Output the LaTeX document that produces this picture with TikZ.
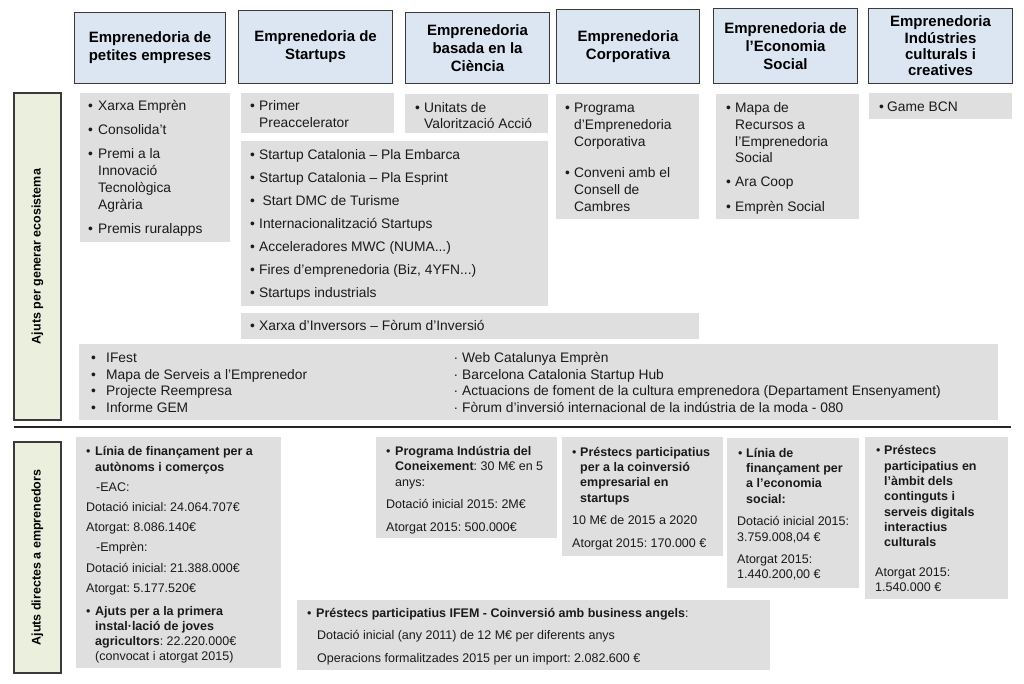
\documentclass[tikz,border=0pt]{standalone}
\usepackage{fontspec}
\setmainfont{Liberation Sans}
\definecolor{hdrfill}{HTML}{DCE6F2}
\definecolor{hdrline}{HTML}{3A3A3A}
\definecolor{gfill}{HTML}{DFDFDF}
\definecolor{sidefill}{HTML}{EBF0DE}
\definecolor{txtcol}{HTML}{1A1A1A}
\frenchspacing
\newcommand\bodyfont{\fontsize{13.8}{16.7}\selectfont\frenchspacing}
\newcommand\smallfont{\fontsize{12.5}{15.5}\selectfont\frenchspacing}
\newcommand\hdrfont{\fontsize{15}{18}\selectfont\bfseries}
\newcommand\sidefont{\fontsize{12.5}{15}\selectfont\bfseries}
\newcounter{tln}
\newcommand\tl[4][tx]{\stepcounter{tln}\node[#1] (t\arabic{tln}) at (#2,#3) {#4};}
\newcommand\bl[5][tx]{\tl[#1]{#2}{#4}{•}\tl[#1]{#3}{#4}{#5}}
\begin{document}
\begin{tikzpicture}[x=1pt,y=-1pt,
  hdr/.style={draw=hdrline, line width=1.1pt, fill=hdrfill, inner sep=0pt, align=center, font=\hdrfont, anchor=north west, text=black},
  gbox/.style={fill=gfill, inner sep=0pt, anchor=north west},
  side/.style={draw=hdrline, line width=1.1pt, fill=sidefill, inner sep=0pt, rotate=90, font=\sidefont, text=black},
  tx/.style={anchor=base west, inner sep=0pt, font=\bodyfont, text=txtcol},
  ts/.style={anchor=base west, inner sep=0pt, font=\smallfont, text=txtcol}]
\useasboundingbox[fill=white] (0,0) rectangle (1024,683);

% headers
\node[hdr, minimum width=151, minimum height=71] (h1) at (74,12) {Emprenedoria de\\petites empreses};
\node[hdr, minimum width=154, minimum height=73] (h2) at (238,10) {Emprenedoria de\\Startups};
\node[hdr, minimum width=144, minimum height=71] (h3) at (405,12) {Emprenedoria\\basada en la\\Ciència};
\node[hdr, minimum width=143, minimum height=74] (h4) at (556,9) {Emprenedoria\\Corporativa};
\node[hdr, minimum width=144, minimum height=75] (h5) at (713,8) {Emprenedoria de\\l’Economia\\Social};
\node[hdr, minimum width=144, minimum height=75, font=\fontsize{15}{16.3}\selectfont\bfseries] (h6) at (868,8) {Emprenedoria\\Indústries\\culturals i\\creatives};

% side labels
\node[side, minimum width=327, minimum height=47] (s1) at (37.5,256.5) {Ajuts per generar ecosistema};
\node[side, minimum width=231, minimum height=47] (s2) at (37.5,557.5) {Ajuts directes a emprenedors};

% separator
\coordinate (sepL) at (14,427);
\coordinate (sepR) at (1011,427);
\draw[line width=2.4pt, color=black!85] (sepL) -- (sepR);

% gray boxes
\node[gbox, minimum width=150, minimum height=149] (g1) at (80,93) {};
\node[gbox, minimum width=153, minimum height=40] (g2) at (241,93) {};
\node[gbox, minimum width=143, minimum height=39] (g3) at (405,94) {};
\node[gbox, minimum width=307, minimum height=165] (g4) at (241,141) {};
\node[gbox, minimum width=458, minimum height=26] (g5) at (241,313) {};
\node[gbox, minimum width=143, minimum height=125] (g6) at (556,94) {};
\node[gbox, minimum width=143, minimum height=125] (g7) at (716,94) {};
\node[gbox, minimum width=143, minimum height=26] (g8) at (869,93) {};
\node[gbox, minimum width=919, minimum height=76] (g9) at (79,344) {};
\node[gbox, minimum width=205, minimum height=231] (g10) at (76,437) {};
\node[gbox, minimum width=181, minimum height=101] (g11) at (376,437) {};
\node[gbox, minimum width=473, minimum height=70] (g12) at (297,600) {};
\node[gbox, minimum width=161, minimum height=119] (g13) at (562,437) {};
\node[gbox, minimum width=132, minimum height=150] (g14) at (727,438) {};
\node[gbox, minimum width=143, minimum height=162] (g15) at (865,437) {};

% G1
\bl{88}{98}{110.8}{Xarxa Emprèn}
\bl{88}{98}{134.8}{Consolida’t}
\bl{88}{98}{158.8}{Premi a la}
\tl{98}{175.5}{Innovació}
\tl{98}{192.5}{Tecnològica}
\tl{98}{209}{Agrària}
\bl{88}{98}{233.8}{Premis ruralapps}
% G2
\bl{250}{259}{110.8}{Primer}
\tl{259}{127}{Preaccelerator}
% G3
\bl{415}{424}{112}{Unitats de}
\tl{424}{128.8}{Valorització Acció}
% G4
\bl{250}{259}{159.8}{Startup Catalonia – Pla Embarca}
\bl{250}{259}{182.8}{Startup Catalonia – Pla Esprint}
\bl{250}{262.5}{205.8}{Start DMC de Turisme}
\bl{250}{259}{228.8}{Internacionalització Startups}
\bl{250}{259}{251.8}{Acceleradores MWC (NUMA...)}
\bl{250}{259}{274.8}{Fires d’emprenedoria (Biz, 4YFN...)}
\bl{250}{259}{297.8}{Startups industrials}
% G5
\bl{250}{259}{330.8}{Xarxa d’Inversors – Fòrum d’Inversió}
% G6
\bl{565}{574}{112.8}{Programa}
\tl{574}{129.5}{d’Emprenedoria}
\tl{574}{146}{Corporativa}
\bl{565}{574}{177.8}{Conveni amb el}
\tl{574}{194.5}{Consell de}
\tl{574}{211.5}{Cambres}
% G7
\bl{726}{735}{112.8}{Mapa de}
\tl{735}{129.5}{Recursos a}
\tl{735}{146}{l’Emprenedoria}
\tl{735}{162.8}{Social}
\bl{726}{735}{186.8}{Ara Coop}
\bl{726}{735}{211.5}{Emprèn Social}
% G8
\bl{879}{887}{111.8}{Game BCN}
% G9
\bl{91}{106}{362.8}{IFest}
\bl{91}{106}{379}{Mapa de Serveis a l’Emprenedor}
\bl{91}{106}{395.8}{Projecte Reempresa}
\bl{91}{106}{412.6}{Informe GEM}
\tl{453.5}{362.8}{·}\tl{462}{362.8}{Web Catalunya Emprèn}
\tl{453.5}{379}{·}\tl{462}{379}{Barcelona Catalonia Startup Hub}
\tl{453.5}{395.8}{·}\tl{462}{395.8}{Actuacions de foment de la cultura emprenedora (Departament Ensenyament)}
\tl{453.5}{412.6}{·}\tl{462}{412.6}{Fòrum d’inversió internacional de la indústria de la moda - 080}

% G10
\bl[ts]{86}{95}{455.4}{\textbf{Línia de finançament per a}}
\tl[ts]{95}{471.4}{\textbf{autònoms i comerços}}
\tl[ts]{96}{491.4}{-EAC:}
\tl[ts]{86}{511.4}{Dotació inicial: 24.064.707€}
\tl[ts]{86}{531.4}{Atorgat: 8.086.140€}
\tl[ts]{96}{551.4}{-Emprèn:}
\tl[ts]{86}{572.4}{Dotació inicial: 21.388.000€}
\tl[ts]{86}{592.4}{Atorgat: 5.177.520€}
\bl[ts]{86}{95}{615.4}{\textbf{Ajuts per a la primera}}
\tl[ts]{95}{630.4}{\textbf{instal·lació de joves}}
\tl[ts]{95}{645.4}{\textbf{agricultors}: 22.220.000€}
\tl[ts]{95}{660.4}{(convocat i atorgat 2015)}
% G11
\bl[ts]{386}{395}{455.4}{\textbf{Programa Indústria del}}
\tl[ts]{395}{470.4}{\textbf{Coneixement}: 30 M€ en 5}
\tl[ts]{395}{486.4}{anys:}
\tl[ts]{386}{508.4}{Dotació inicial 2015: 2M€}
\tl[ts]{386}{531.4}{Atorgat 2015: 500.000€}
% G12
\bl[ts]{307}{316}{617.4}{\textbf{Préstecs participatius IFEM - Coinversió amb business angels}:}
\tl[ts]{317}{639.4}{Dotació inicial (any 2011) de 12 M€ per diferents anys}
\tl[ts]{317}{662.4}{Operacions formalitzades 2015 per un import: 2.082.600 €}
% G13
\bl[ts]{572}{580}{456.4}{\textbf{Préstecs participatius}}
\tl[ts]{580}{471.4}{\textbf{per a la coinversió}}
\tl[ts]{580}{486.4}{\textbf{empresarial en}}
\tl[ts]{580}{502.4}{\textbf{startups}}
\tl[ts]{572}{524.4}{10 M€ de 2015 a 2020}
\tl[ts]{572}{547.4}{Atorgat 2015: 170.000 €}
% G14
\bl[ts]{738}{746}{457.4}{\textbf{Línia de}}
\tl[ts]{746}{472.4}{\textbf{finançament per}}
\tl[ts]{746}{487.4}{\textbf{a l’economia}}
\tl[ts]{746}{503.4}{\textbf{social:}}
\tl[ts]{737}{525.4}{Dotació inicial 2015:}
\tl[ts]{737}{541.4}{3.759.008,04 €}
\tl[ts]{737}{563.4}{Atorgat 2015:}
\tl[ts]{737}{578.4}{1.440.200,00 €}
% G15
\bl[ts]{876}{884}{454.4}{\textbf{Préstecs}}
\tl[ts]{884}{470.4}{\textbf{participatius en}}
\tl[ts]{884}{485.4}{\textbf{l’àmbit dels}}
\tl[ts]{884}{500.4}{\textbf{continguts i}}
\tl[ts]{884}{516.4}{\textbf{serveis digitals}}
\tl[ts]{884}{531.4}{\textbf{interactius}}
\tl[ts]{884}{546.4}{\textbf{culturals}}
\tl[ts]{875}{576.4}{Atorgat 2015:}
\tl[ts]{875}{591.4}{1.540.000 €}
\end{tikzpicture}
\end{document}
